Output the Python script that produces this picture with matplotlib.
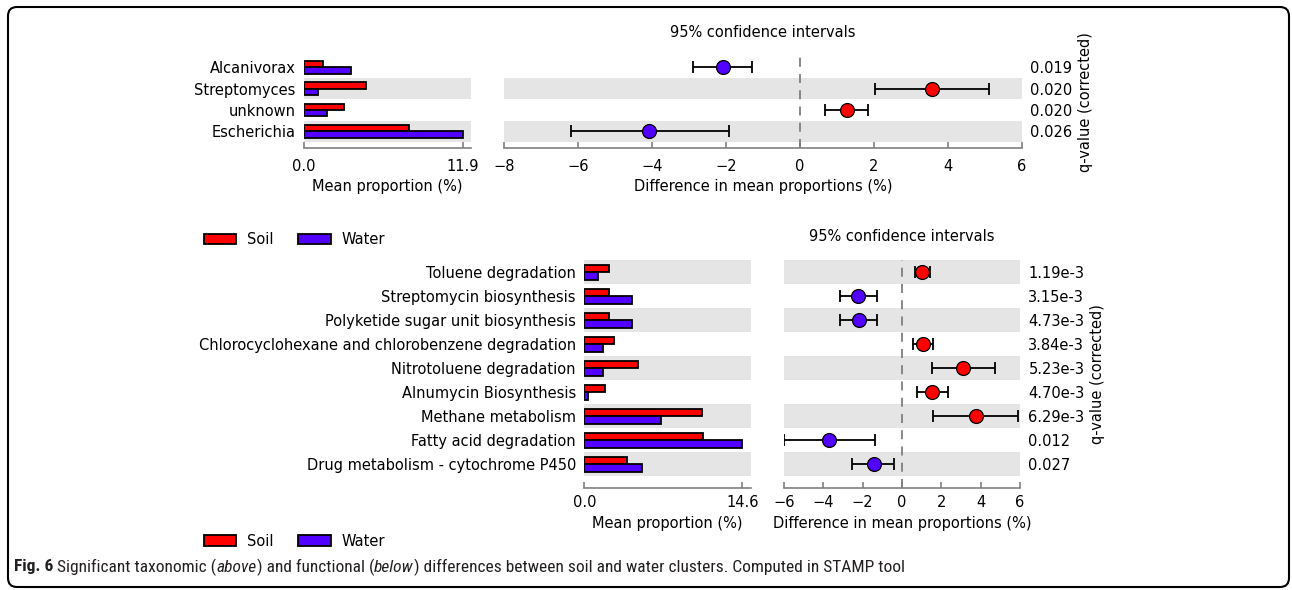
"""STAMP extended error bar plots: soil vs water (taxonomic above, functional below)."""
import numpy as np
import matplotlib
matplotlib.use("Agg")
import matplotlib.pyplot as plt
from matplotlib.patches import FancyBboxPatch, Patch

W, H = 1292, 590
RED = "#ff0000"; BLUE = "#5200ff"; BAND = "#e5e5e5"; SPINE = "#808080"
FS = 10.5

# taxonomic differences (top panel)
tax_names = ["Alcanivorax", "Streptomyces", "unknown", "Escherichia"]
tax_soil = [1.43, 4.64, 2.98, 7.84]
tax_water = [3.50, 1.08, 1.73, 11.9]
tax_diff = [-2.09, 3.57, 1.26, -4.07]
tax_lo = [-2.88, 2.04, 0.67, -6.19]
tax_hi = [-1.29, 5.10, 1.85, -1.93]
tax_q = ["0.019", "0.020", "0.020", "0.026"]

# functional differences (bottom panel)
fun_names = ["Toluene degradation", "Streptomycin biosynthesis",
             "Polyketide sugar unit biosynthesis",
             "Chlorocyclohexane and chlorobenzene degradation",
             "Nitrotoluene degradation", "Alnumycin Biosynthesis",
             "Methane metabolism", "Fatty acid degradation",
             "Drug metabolism - cytochrome P450"]
fun_soil = [2.31, 2.24, 2.24, 2.77, 4.92, 1.91, 10.82, 10.97, 3.90]
fun_water = [1.23, 4.43, 4.43, 1.69, 1.75, 0.34, 7.04, 14.6, 5.29]
fun_diff = [1.02, -2.22, -2.19, 1.07, 3.12, 1.54, 3.76, -3.71, -1.44]
fun_lo = [0.66, -3.13, -3.13, 0.56, 1.51, 0.78, 1.59, -6.02, -2.53]
fun_hi = [1.41, -1.25, -1.25, 1.56, 4.75, 2.32, 5.90, -1.39, -0.39]
fun_q = ["1.19e-3", "3.15e-3", "4.73e-3", "3.84e-3", "5.23e-3",
         "4.70e-3", "6.29e-3", "0.012", "0.027"]

groups = ["Soil", "Water"]

fig = plt.figure(figsize=(W / 100, H / 100), dpi=100)


def px_axes(l, t, r, b):
    return fig.add_axes([l / W, 1 - b / H, (r - l) / W, (b - t) / H])


def style(ax, n, ybot, tickpad):
    for i in range(n):
        if (n - 1 - i) % 2 == 0:
            ax.axhspan(i - 0.5, i + 0.5, color=BAND, lw=0, zorder=0)
    ax.set_ylim(ybot, -0.5)
    for s in ("top", "right", "left"):
        ax.spines[s].set_visible(False)
    ax.spines["bottom"].set_color(SPINE)
    ax.spines["bottom"].set_linewidth(1.2)
    ax.tick_params(axis="x", direction="in", length=4, width=1.2, color=SPINE,
                   labelsize=FS, pad=tickpad)
    ax.tick_params(axis="y", length=0, labelsize=FS)
    ax.set_facecolor("none")


def panel(names, soil, water, diff, lo, hi, qvals, bar_box, ci_box, ybot,
          ci_lim, ci_ticks, tickpad):
    n = len(names)
    y = np.arange(n)
    axb = px_axes(*bar_box)
    axc = px_axes(*ci_box)
    style(axb, n, ybot, tickpad)
    style(axc, n, ybot, tickpad)

    # mean proportions
    xmax = max(max(soil), max(water))
    axb.barh(y - 0.15, soil, height=0.3, color=RED, edgecolor="black", lw=1.3, zorder=2)
    axb.barh(y + 0.15, water, height=0.3, color=BLUE, edgecolor="black", lw=1.3, zorder=2)
    axb.set_xlim(0, xmax * 1.052)
    axb.set_xticks([0, xmax])
    axb.set_xticklabels(["0.0", f"{xmax:.1f}"])
    axb.set_yticks(y)
    axb.set_yticklabels(names)
    axb.tick_params(axis="y", pad=6)
    axb.set_xlabel("Mean proportion (%)", fontsize=FS, labelpad=4)

    # confidence intervals
    d = np.array(diff); l = np.array(lo); h = np.array(hi)
    axc.axvline(0, color="#7f7f7f", ls=(0, (5, 4)), lw=1.3, zorder=1)
    axc.errorbar(d, y, xerr=[d - l, h - d], fmt="none", ecolor="black",
                 elinewidth=1.3, capsize=4.5, capthick=1.3, zorder=2)
    for xi, yi in zip(d, y):
        axc.plot(xi, yi, "o", ms=10, mfc=RED if xi > 0 else BLUE,
                 mec="black", mew=0.9, zorder=3)
    axc.set_xlim(*ci_lim)
    axc.set_xticks(ci_ticks)
    axc.set_yticks([])
    axc.set_title("95% confidence intervals", fontsize=FS, pad=14)
    axc.set_xlabel("Difference in mean proportions (%)", fontsize=FS, labelpad=4)

    tw = axc.twinx()
    tw.set_ylim(ybot, -0.5)
    tw.set_yticks(y)
    tw.set_yticklabels(qvals)
    tw.tick_params(axis="y", length=0, labelsize=FS, pad=6)
    for s in tw.spines.values():
        s.set_visible(False)
    tw.set_ylabel("q-value (corrected)", fontsize=FS, labelpad=4)


panel(tax_names, tax_soil, tax_water, tax_diff, tax_lo, tax_hi, tax_q,
      (304, 56.7, 471, 147.7), (504, 56.7, 1022, 147.7), 3.77,
      (-8, 6), range(-8, 7, 2), 8)
panel(fun_names, fun_soil, fun_water, fun_diff, fun_lo, fun_hi, fun_q,
      (584.3, 260.3, 750.7, 488.3), (784, 260.3, 1020, 488.3), 9.0,
      (-6, 6), range(-6, 7, 2), 5)

# legends
handles = [Patch(facecolor=RED, edgecolor="black", lw=1.3),
           Patch(facecolor=BLUE, edgecolor="black", lw=1.3)]
for ly in (239.5, 541):
    fig.legend(handles, groups, loc="center left", bbox_to_anchor=(191 / W, 1 - ly / H),
               ncol=2, frameon=False, fontsize=FS, handlelength=2.2,
               handleheight=0.75, handletextpad=0.75, columnspacing=1.7)

# border and caption
ax0 = fig.add_axes([0, 0, 1, 1], zorder=-1)
ax0.set_xlim(0, W); ax0.set_ylim(H, 0); ax0.axis("off")
ax0.add_patch(FancyBboxPatch((8, 7), 1281, 580, boxstyle="round,pad=0,rounding_size=9",
                             fill=False, ec="black", lw=1.5))

cap_font = ["Roboto Condensed", "Open Sans Condensed", "Liberation Sans Narrow", "Roboto"]
pieces = [("Fig. 6", "bold", "normal"),
          (" Significant taxonomic (", "normal", "normal"),
          ("above", "normal", "italic"),
          (") and functional (", "normal", "normal"),
          ("below", "normal", "italic"),
          (") differences between soil and water clusters. Computed in STAMP tool", "normal", "normal")]
r = fig.canvas.get_renderer()
x = 14
for s, wt, st in pieces:
    t = ax0.text(x, 567, s, fontsize=12.5, fontweight=wt, fontstyle=st,
                 family=cap_font, va="center", ha="left", color="#231f20")
    bb = t.get_window_extent(r)
    x += bb.width

fig.savefig("out.png", dpi=100)
